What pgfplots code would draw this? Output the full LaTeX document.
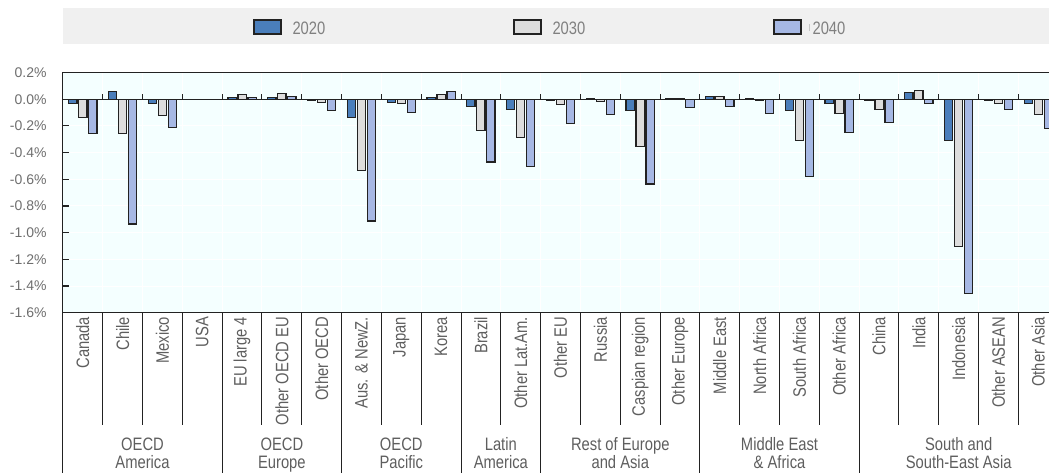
\documentclass[border=0pt]{standalone}
\usepackage{pgfplots}
\usepackage{pgfplotstable}
\pgfplotsset{compat=1.18}
\usepackage{fontspec}
\setmainfont{Liberation Sans}
\newfontfamily\narrow{Liberation Sans}[FakeStretch=0.82]
\definecolor{c2020}{HTML}{4A7EBB}
\definecolor{c2030}{HTML}{DDDDDD}
\definecolor{c2040}{HTML}{A6B8E4}
\definecolor{edge}{HTML}{222222}
\definecolor{bgc}{HTML}{F4FFFF}
\definecolor{legbg}{HTML}{F0F0F0}
\definecolor{labtext}{HTML}{5E5E5E}
\definecolor{ticktext}{HTML}{6E6E6E}
\definecolor{legtext}{HTML}{808080}

\pgfplotstableread{
idx a b c
0 -0.03 -0.14 -0.26
1 0.055 -0.26 -0.935
2 -0.03 -0.12 -0.215
3 0 0 0
4 0.01 0.035 0.012
5 0.01 0.045 0.0225
6 -0.01 -0.0225 -0.0875
7 -0.14 -0.535 -0.9125
8 -0.0225 -0.035 -0.0975
9 0.01 0.035 0.0575
10 -0.0525 -0.2375 -0.47
11 -0.075 -0.2875 -0.505
12 -0.01 -0.0425 -0.18
13 0.008 -0.02 -0.1175
14 -0.085 -0.355 -0.635
15 0.005 0.005 -0.065
16 0.0225 0.0225 -0.0525
17 0.005 -0.01 -0.1075
18 -0.085 -0.3125 -0.58
19 -0.0325 -0.1075 -0.2475
20 -0.008 -0.075 -0.1725
21 0.0525 0.065 -0.0325
22 -0.3125 -1.1025 -1.4575
23 -0.01 -0.0325 -0.075
24 -0.0325 -0.1175 -0.2175
}\data

\begin{document}
\begin{tikzpicture}
\fill[legbg] (0pt,269pt) rectangle (1010pt,304.7pt);
\begin{axis}[
  at={(0,0)}, anchor=south west,
  scale only axis, width=995.3pt, height=240.2pt,
  xmin=-0.5, xmax=24.5, ymin=-1.6, ymax=0.2,
  ybar=1.7pt, bar width=8.3pt,
  clip=false,
  axis background/.style={fill=bgc},
  axis line style={draw=edge, line width=1.2pt},
  xtick={0,...,24},
  xticklabels={Canada, Chile, Mexico, USA, EU large 4, Other OECD EU, Other OECD, Aus. \& NewZ., Japan, Korea, Brazil, Other Lat.Am., Other EU, Russia, Caspian region, Other Europe, Middle East, North Africa, South Africa, Other Africa, China, India, Indonesia, Other ASEAN, Other Asia},
  xticklabel style={yshift=-4pt, rotate=90, anchor=east, inner sep=0pt, font=\narrow\fontsize{18}{18}\selectfont, text=labtext},
  x tick style={draw=none},
  minor xtick={-0.5,0.5,...,24.5},
  xminorgrids=true, ymajorgrids=true,
  major grid style={draw=white, line width=1pt},
  minor grid style={draw=white, line width=1pt},
  ytick={-1.6,-1.4,-1.2,-1,-0.8,-0.6,-0.4,-0.2,0,0.2},
  yticklabels={-1.6\%,-1.4\%,-1.2\%,-1.0\%,-0.8\%,-0.6\%,-0.4\%,-0.2\%,0.0\%,0.2\%},
  yticklabel style={anchor=east, inner sep=0pt, xshift=-16.2pt, font=\fontsize{14}{14}\selectfont, text=ticktext},
  ytick pos=left, tick align=inside, major tick length=6pt,
  y tick style={draw=edge, line width=1.2pt},
  legend columns=3,
  legend image code/.code={\draw[#1, line width=1.2pt] (0pt,-5.5pt) rectangle (27pt,8.5pt);},
  legend style={at={(axis description cs:0,1)}, anchor=west, xshift=190.4pt, yshift=45pt,
    draw=none, fill=none, inner sep=0pt, outer sep=0pt,
    font=\narrow\fontsize{18}{18}\selectfont, text=legtext,
    nodes={inner sep=0pt},
    /tikz/every even column/.append style={column sep=188pt},
    /tikz/every odd column/.append style={column sep=11pt}},
]
\addplot[fill=c2020, draw=edge, line width=1.2pt] table[x=idx, y=a] {\data};
\addlegendentry{2020}
\addplot[fill=c2030, draw=edge, line width=1.2pt] table[x=idx, y=b] {\data};
\addlegendentry{2030}
\addplot[fill=c2040, draw=edge, line width=1.2pt] table[x=idx, y=c] {\data};
\addlegendentry{\llap{\textcolor{gray!45}{\rule[3pt]{0.9pt}{7pt}}\hspace{2.5pt}}2040}
\end{axis}
% zero line and its ticks
\draw[edge, line width=1.2pt] (0pt,213.5pt) -- (995.3pt,213.5pt);
\foreach \k in {1,...,24} \draw[edge, line width=1pt] (\k*39.812pt,213.5pt) -- (\k*39.812pt,219.2pt);
% category separators below axis
\foreach \k in {1,2,3,5,6,8,9,11,13,14,15,17,18,19,21,22,23,24}
  \draw[edge, line width=1pt] (\k*39.812pt,0pt) -- (\k*39.812pt,-112.3pt);
\foreach \k in {0,4,7,10,12,16,20,25}
  \draw[edge, line width=1pt] (\k*39.812pt,0pt) -- (\k*39.812pt,-170pt);
% group labels
\begin{scope}[every node/.style={anchor=base, inner sep=0pt, font=\narrow\fontsize{18}{18}\selectfont, text=labtext}]
\node at (79.6pt,-137.3pt) {OECD};
\node at (79.6pt,-155.6pt) {America};
\node at (218.97pt,-137.3pt) {OECD};
\node at (218.97pt,-155.6pt) {Europe};
\node at (338.4pt,-137.3pt) {OECD};
\node at (338.4pt,-155.6pt) {Pacific};
\node at (437.93pt,-137.3pt) {Latin};
\node at (437.93pt,-155.6pt) {America};
\node at (557.37pt,-137.3pt) {Rest of Europe};
\node at (557.37pt,-155.6pt) {and Asia};
\node at (716.62pt,-137.3pt) {Middle East};
\node at (716.62pt,-155.6pt) {\& Africa};
\node at (895.77pt,-137.3pt) {South and};
\node at (895.77pt,-155.6pt) {South-East Asia};
\end{scope}
\pgfresetboundingbox
\useasboundingbox (-62.9pt,-159.3pt) rectangle (986.1pt,312.7pt);
\end{tikzpicture}
\end{document}
